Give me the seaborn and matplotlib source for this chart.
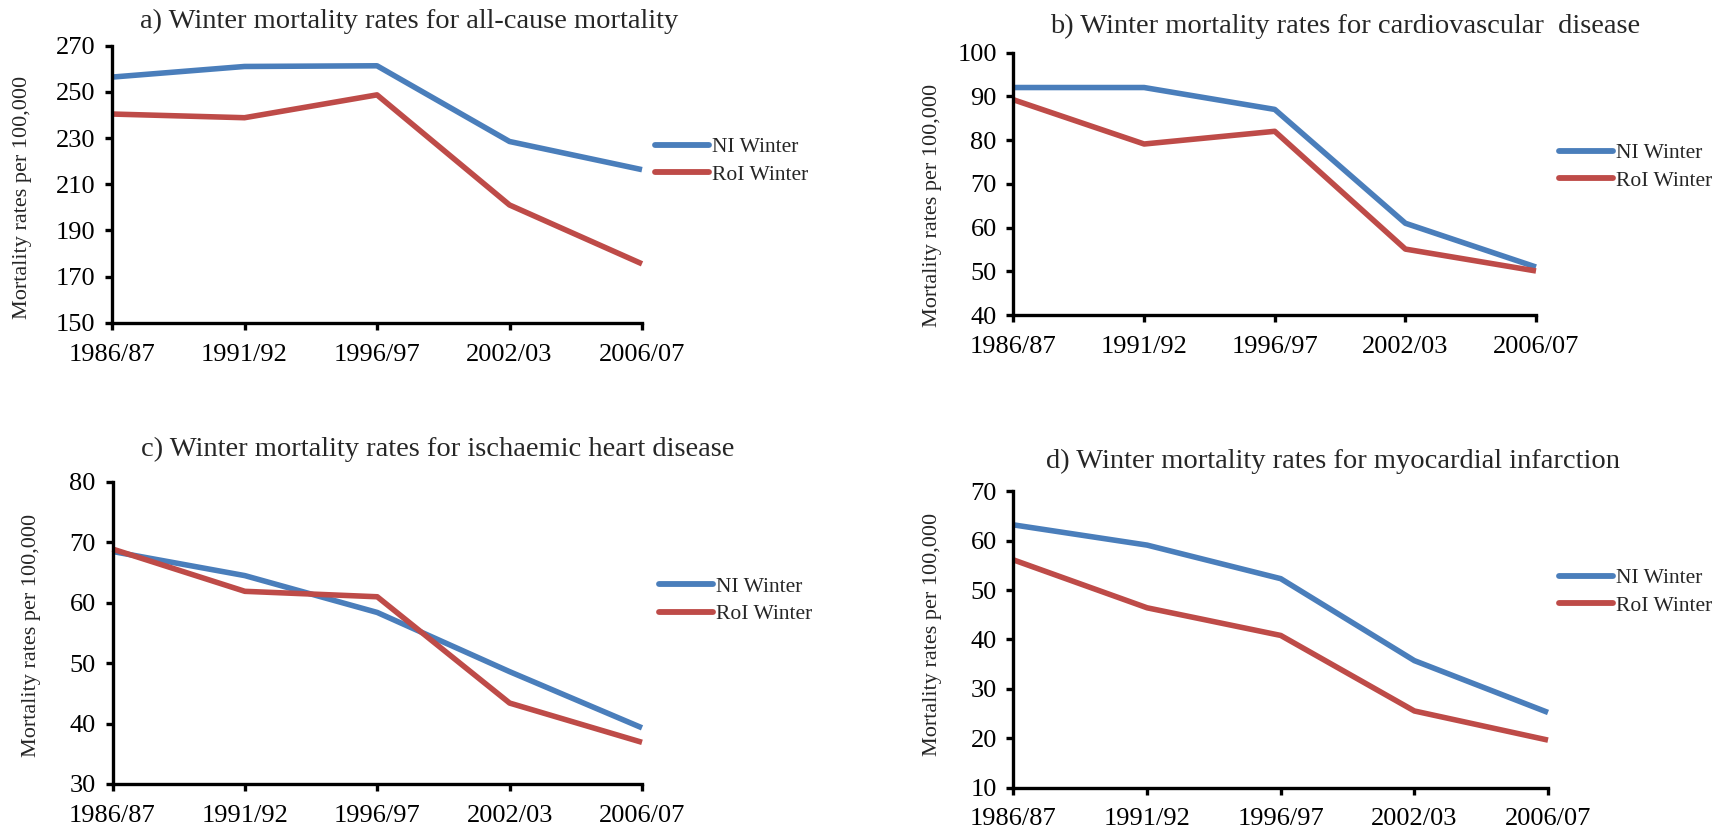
import matplotlib
matplotlib.use("Agg")
import matplotlib.pyplot as plt
import seaborn as sns
import pandas as pd

# ---- data ----
seasons = ["1986/87", "1991/92", "1996/97", "2002/03", "2006/07"]
series_names = ["NI Winter", "RoI Winter"]

a_ni = [256.4, 261.0, 261.3, 228.5, 216.3]
a_roi = [240.4, 238.8, 248.7, 201.0, 175.5]

b_ni = [92.0, 92.0, 87.0, 61.0, 51.0]
b_roi = [89.2, 79.1, 82.0, 55.1, 50.1]

c_ni = [68.5, 64.5, 58.4, 48.6, 39.3]
c_roi = [68.9, 61.9, 61.0, 43.4, 36.9]

d_ni = [63.2, 59.1, 52.3, 35.7, 25.2]
d_roi = [56.1, 46.4, 40.8, 25.5, 19.6]

titles = [
    "a) Winter mortality rates for all-cause mortality",
    "b) Winter mortality rates for cardiovascular  disease",
    "c) Winter mortality rates for ischaemic heart disease",
    "d) Winter mortality rates for myocardial infarction",
]
y_ranges = [(150, 270, 20), (40, 100, 10), (30, 80, 10), (10, 70, 10)]
ylabel = "Mortality rates per 100,000"

colors = ["#4A7EBB", "#BE4B48"]

sns.set_style("ticks")
plt.rcParams["font.family"] = ["Liberation Serif", "DejaVu Serif"]

W, H = 1724, 832
fig = plt.figure(figsize=(W / 100, H / 100), dpi=100)


def fx(px):
    return px / W


def fy(py):
    return 1 - py / H


# axes boxes in pixels: left, right, top, bottom
boxes = [
    (112, 642, 45.7, 322.7),
    (1013.5, 1536, 52.5, 315.2),
    (112.5, 642, 482, 784),
    (1013.5, 1548, 491.3, 787.5),
]
# title centre x, baseline y
title_pos = [(409, 28), (1345, 33), (438, 456), (1333, 468)]
# ylabel centre x, centre y
ylabel_pos = [(23, 197), (932, 205), (32, 635), (932, 634)]
# legend left x, centre y
legend_pos = [(655, 161), (1559, 167), (659, 600.5), (1559, 592)]

all_data = [(a_ni, a_roi), (b_ni, b_roi), (c_ni, c_roi), (d_ni, d_roi)]

for i, (ni, roi) in enumerate(all_data):
    L, R, T, B = boxes[i]
    ax = fig.add_axes([fx(L), fy(B), fx(R) - fx(L), fy(T) - fy(B)])
    df = pd.DataFrame({
        "season": seasons * 2,
        "rate": list(ni) + list(roi),
        "series": [series_names[0]] * len(seasons) + [series_names[1]] * len(seasons),
    })
    sns.lineplot(data=df, x="season", y="rate", hue="series", palette=colors,
                 linewidth=4.0, ax=ax, sort=False, legend=True)
    ax.set_xlim(0, len(seasons) - 1)
    lo, hi, step = y_ranges[i]
    ax.set_ylim(lo, hi)
    ax.set_yticks(list(range(lo, hi + 1, step)))
    ax.set_xlabel("")
    ax.set_ylabel("")
    for s in ["top", "right"]:
        ax.spines[s].set_visible(False)
    for s in ["left", "bottom"]:
        ax.spines[s].set_linewidth(2.4)
        ax.spines[s].set_color("black")
    ax.tick_params(axis="both", direction="out", length=5, width=2.4,
                   labelsize=19, colors="black")
    ax.tick_params(axis="x", pad=10)
    ax.tick_params(axis="y", pad=7)
    for ln in ax.lines:
        ln.set_solid_capstyle("butt")
        ln.set_solid_joinstyle("round")
        ln.set_clip_on(False)

    lx, ly = legend_pos[i]
    leg = ax.legend(loc="center left", bbox_to_anchor=(fx(lx), fy(ly)),
                    bbox_transform=fig.transFigure, frameon=False,
                    fontsize=15.5, handlelength=2.5, handletextpad=0.15,
                    labelspacing=0.35, borderpad=0, borderaxespad=0, title=None)
    for h in leg.get_lines():
        h.set_linewidth(4.2)
        h.set_solid_capstyle("round")

    tx, ty = title_pos[i]
    fig.text(fx(tx), fy(ty), titles[i], ha="center", va="baseline", fontsize=20.5)
    yx, yy = ylabel_pos[i]
    fig.text(fx(yx), fy(yy), ylabel, ha="center", va="center", rotation=90,
             fontsize=16)

fig.savefig("out.png", dpi=100)
